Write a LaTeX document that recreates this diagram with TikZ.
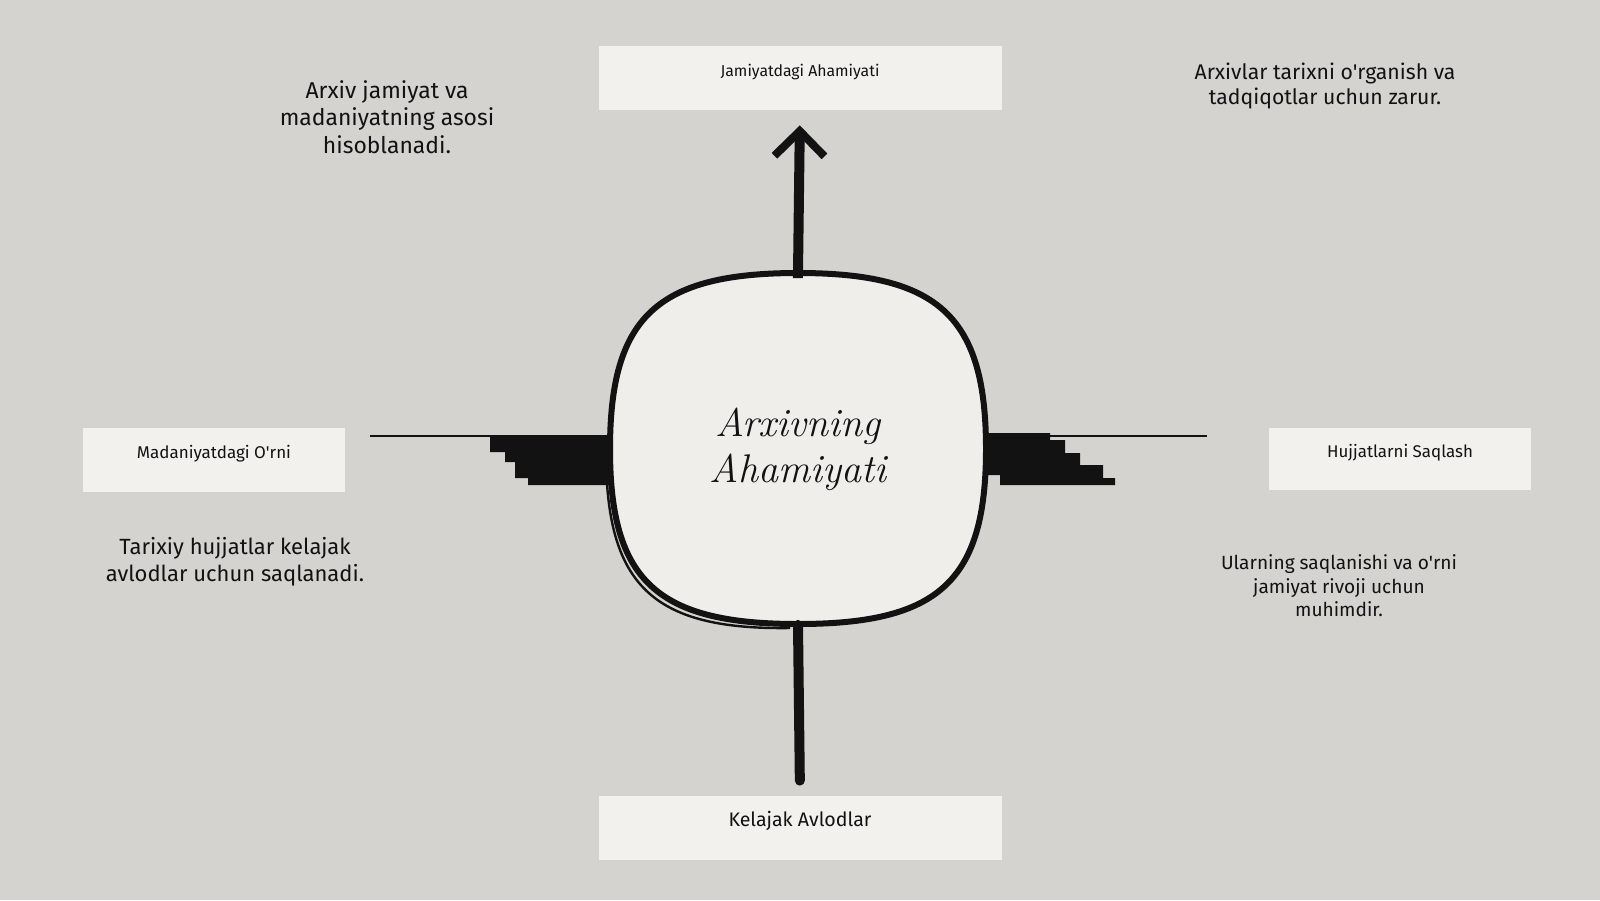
\documentclass[tikz,border=0pt]{standalone}
\usepackage{fontspec}
\newfontfamily\labelfont{Fira Sans}
\usetikzlibrary{arrows.meta}

\definecolor{paper}{HTML}{D4D3D0}
\definecolor{tape}{HTML}{F2F1EE}
\definecolor{hubfill}{HTML}{EFEEEB}
\definecolor{ink}{HTML}{121212}

\tikzset{
  tapebox/.style={fill=tape, inner sep=0pt, text=ink, text height=6pt, text depth=8pt},
  note/.style={align=center, text=ink, inner sep=0pt},
  hubline/.style={line width=3pt, draw=ink},
  shaft/.style={line width=5pt, draw=ink},
  thinline/.style={line width=0.8pt, draw=ink},
}

\begin{document}
\begin{tikzpicture}[x=0.5pt, y=-0.5pt]
    \fill[paper] (0,0) rectangle (1600,900);
    \useasboundingbox (0,0) rectangle (1600,900);

    % hub outline, drawn before the hub node so the title sits on top
    \filldraw[hubline, fill=hubfill] (798,273) .. controls (939,273) and (986,317) .. (986,449)
        .. controls (986,581) and (939,624) .. (798,624)
        .. controls (657,624) and (610,581) .. (610,449)
        .. controls (610,317) and (657,273) .. (798,273) -- cycle;
    \draw[line width=1.2pt, ink] (606,452) .. controls (606,585) and (652,630) .. (790,628);

    \node[minimum width=188pt, minimum height=175.5pt, inner sep=0pt, align=center, text=ink,
          font=\itshape\fontsize{20}{23}\selectfont] (hub) at (798,449) {Arxivning\\Ahamiyati};

    \node[tapebox, minimum width=201.5pt, minimum height=32pt, font=\labelfont\fontsize{7.9}{9}\selectfont] (jam) at (800,78) {Jamiyatdagi Ahamiyati};
    \node[tapebox, minimum width=131pt, minimum height=32pt, font=\labelfont\fontsize{8.5}{10}\selectfont] (mad) at (214,460) {Madaniyatdagi O'rni};
    \node[tapebox, minimum width=131pt, minimum height=31pt, font=\labelfont\fontsize{8.45}{10}\selectfont] (huj) at (1400,459) {Hujjatlarni Saqlash};
    \node[tapebox, minimum width=201.5pt, minimum height=32pt, font=\labelfont\fontsize{9.8}{11}\selectfont] (kel) at (800,828) {Kelajak Avlodlar};

    \node[note, font=\labelfont\fontsize{11.45}{13.75}\selectfont] (asosi) at (387,117) {Arxiv jamiyat va\\madaniyatning asosi\\hisoblanadi.};
    \node[note, font=\labelfont\fontsize{10.6}{12.25}\selectfont] (zarur) at (1325,86) {Arxivlar tarixni o'rganish va\\tadqiqotlar uchun zarur.};
    \node[note, font=\labelfont\fontsize{11}{13.5}\selectfont] (saqlanadi) at (235,562) {Tarixiy hujjatlar kelajak\\avlodlar uchun saqlanadi.};
    \node[note, font=\labelfont\fontsize{9.55}{11.75}\selectfont] (muhimdir) at (1339,586) {Ularning saqlanishi va o'rni\\jamiyat rivoji uchun\\muhimdir.};

    % connectors
    \draw[shaft, shorten <=-2.5pt, shorten >=7.5pt, -{Straight Barb[length=12.5pt, width=25pt, line width=4pt]}] (hub.north) -- (jam.south);
    \draw[shaft, line cap=round, shorten >=7.5pt] (hub.south) -- (kel.north);

    \coordinate (lend) at (370,436);
    \coordinate (rend) at (1207,436);
    \draw[thinline] (hub.west |- lend) -- (lend);
    \draw[thinline] (hub.east |- rend) -- (rend);
    \fill[ink] (490,437) -- (610,437) -- (610,485) -- (528,485) -- (528,478) -- (515,478) -- (515,462)
        -- (505,462) -- (505,452) -- (490,452) -- cycle;
    \fill[ink] (986,433) -- (1050,433) -- (1050,440) -- (1065,440) -- (1065,453) -- (1080,453) -- (1080,465)
        -- (1103,465) -- (1103,478) -- (1115,478) -- (1115,485) -- (1000,485) -- (1000,475) -- (986,475) -- cycle;
\end{tikzpicture}
\end{document}
